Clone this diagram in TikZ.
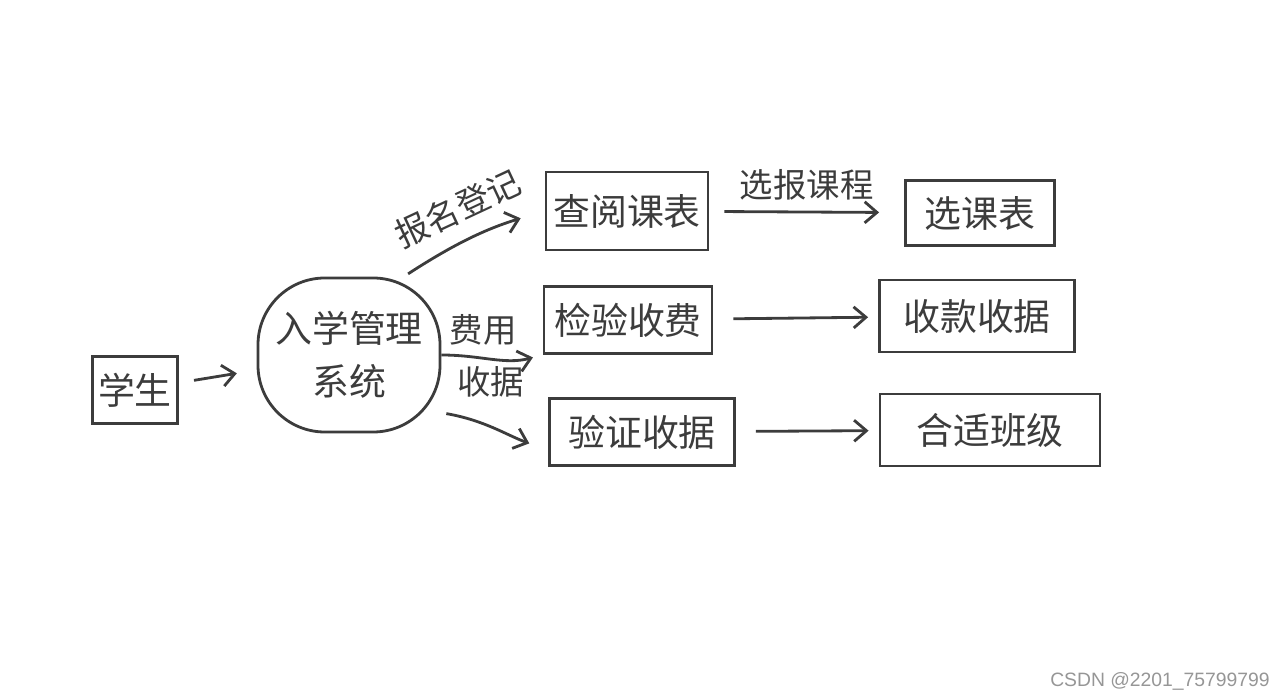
\documentclass[tikz,border=0pt]{standalone}
\usepackage{fontspec}
\setmainfont{Liberation Sans}
\newfontfamily\cjk{Noto Sans CJK SC}
\usepackage{xcolor}
\usepackage{tikz}
\usetikzlibrary{arrows.meta,positioning,calc}
\definecolor{penGray}{RGB}{60,60,60}
\definecolor{markGray}{RGB}{150,150,150}

\begin{document}
\begin{tikzpicture}[font=\cjk, line width=1.6pt, draw=penGray,
    box/.style={rectangle, draw=penGray, line width=1.6pt, minimum width=#1,
                minimum height=1.4cm, text=penGray, font=\cjk\fontsize{21}{24}\selectfont},
    sysbox/.style={rectangle, rounded corners=38pt, draw=penGray, line width=1.6pt,
                   minimum width=3.64cm, minimum height=3.08cm, align=center, text=penGray,
                   font=\cjk\fontsize{21}{30}\selectfont},
    flow/.style={-{Straight Barb[length=7pt,width=12pt]}, penGray, line width=1.6pt},
    lbl/.style={text=penGray, font=\cjk\fontsize{19}{22}\selectfont}]

\useasboundingbox (0,0) rectangle (25.6,14);

\node[box=1.7cm, minimum height=1.34cm] (stu) at (2.7,6.2) {学生};
\node[sysbox] (sys) at (6.98,6.9) {入学管理\\系统};

\node[box=3.24cm, minimum height=1.56cm] (query) at (12.54,9.78) {查阅课表};
\node[box=3.36cm, minimum height=1.34cm] (fee) at (12.56,7.6) {检验收费};
\node[box=3.7cm, minimum height=1.34cm] (check) at (12.84,5.36) {验证收据};

\node[box=2.98cm, minimum height=1.3cm] (pick) at (19.6,9.74) {选课表};
\node[box=3.9cm, minimum height=1.44cm] (paid) at (19.54,7.68) {收款收据};
\node[box=4.4cm, minimum height=1.44cm] (klass) at (19.8,5.4) {合适班级};

\draw[flow, shorten <=0.1cm, shorten >=0.5cm] (sys.55) to[bend left=8]
    node[midway, above=0.2cm, sloped, lbl] {报名登记} (query.west);
\draw[flow, shorten <=0.3cm, shorten >=0.4cm] (stu) -- (sys);
\draw[flow, shorten >=0.2cm] (sys.east) to[out=0,in=195]
    node[pos=0.4, above=0.1cm, lbl] {费用} (fee.south west);
\draw[flow, shorten <=0.1cm, shorten >=0.4cm] (sys.-32) to[out=-10,in=160]
    node[pos=0.45, above=0.45cm, lbl] {收据} (check.191);

\draw[flow, shorten <=0.3cm, shorten >=0.5cm] (query) -- node[above=0.1cm, lbl] {选报课程} (pick);
\draw[flow, shorten <=0.4cm, shorten >=0.2cm] (fee) -- (paid);
\draw[flow, shorten <=0.4cm, shorten >=0.2cm] (check) -- (klass);

\node[text=markGray, font=\fontsize{11}{13}\selectfont] (mark) at (23.2,0.38) {CSDN @2201\_75799799};
\end{tikzpicture}
\end{document}
